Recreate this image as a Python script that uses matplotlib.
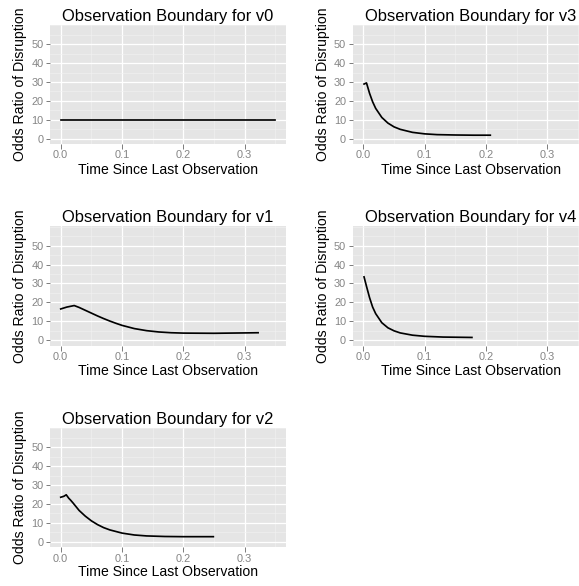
import matplotlib
matplotlib.use("Agg")
import matplotlib.pyplot as plt
from matplotlib.ticker import MultipleLocator

plt.rcParams['font.family'] = ['Liberation Sans', 'DejaVu Sans']

# ---- data ----
v0_x = [0.0, 0.35]
v0_y = [10.0, 10.0]

v1_x = [0.0, 0.010, 0.022, 0.030, 0.040, 0.050, 0.060, 0.070, 0.080, 0.090,
        0.100, 0.120, 0.140, 0.160, 0.180, 0.200, 0.250, 0.300, 0.322]
v1_y = [16.5, 17.5, 18.3, 17.3, 15.8, 14.3, 12.8, 11.4, 10.1, 8.9,
        7.8, 6.1, 5.0, 4.3, 3.9, 3.7, 3.6, 3.8, 3.9]

v2_x = [0.0, 0.005, 0.009, 0.013, 0.016, 0.020, 0.030, 0.040, 0.050, 0.060,
        0.070, 0.080, 0.100, 0.120, 0.140, 0.170, 0.200, 0.249]
v2_y = [23.5, 24.0, 24.8, 23.0, 22.0, 20.5, 16.5, 13.5, 11.0, 9.0,
        7.4, 6.2, 4.5, 3.5, 3.0, 2.7, 2.6, 2.6]

v3_x = [0.001, 0.005, 0.010, 0.015, 0.020, 0.030, 0.040, 0.050, 0.060, 0.080,
        0.100, 0.120, 0.150, 0.180, 0.207]
v3_y = [28.9, 29.5, 24.0, 19.5, 16.0, 11.2, 8.2, 6.2, 4.9, 3.3,
        2.5, 2.1, 1.9, 1.8, 1.8]

v4_x = [0.001, 0.005, 0.010, 0.015, 0.020, 0.030, 0.040, 0.050, 0.060, 0.080,
        0.100, 0.130, 0.177]
v4_y = [33.5, 28.5, 22.5, 17.5, 14.0, 9.2, 6.5, 4.9, 3.8, 2.6,
        2.0, 1.6, 1.4]

panels = [("v0", v0_x, v0_y), ("v3", v3_x, v3_y),
          ("v1", v1_x, v1_y), ("v4", v4_x, v4_y),
          ("v2", v2_x, v2_y)]

x_ticks = [0.0, 0.1, 0.2, 0.3]
x_tick_labels = ["0.0", "0.1", "0.2", "0.3"]
y_ticks = [0, 10, 20, 30, 40, 50]
y_tick_labels = ["0", "10", "20", "30", "40", "50"]

W, H = 579, 586
DPI = 72
fig = plt.figure(figsize=(W / DPI, H / DPI), dpi=DPI)

col_left = [50, 352.7]
row_top = [25, 226.5, 428]
pw, ph = 236, 119

for i, (name, xs, ys) in enumerate(panels):
    r, c = divmod(i, 2)
    l = col_left[c] / W
    b = 1 - (row_top[r] + ph) / H
    ax = fig.add_axes([l, b, pw / W, ph / H])
    ax.set_facecolor('#E5E5E5')
    for s in ax.spines.values():
        s.set_visible(False)
    ax.set_xlim(-0.0175, 0.3675)
    ax.set_ylim(-2.87, 60.2)
    ax.set_xticks(x_ticks)
    ax.set_xticklabels(x_tick_labels)
    ax.set_yticks(y_ticks)
    ax.set_yticklabels(y_tick_labels)
    ax.xaxis.set_minor_locator(MultipleLocator(0.05))
    ax.yaxis.set_minor_locator(MultipleLocator(5))
    ax.grid(which='major', color='white', linewidth=1.3)
    ax.grid(which='minor', color='#F2F2F2', linewidth=0.6)
    ax.set_axisbelow(True)
    ax.tick_params(which='major', length=4.5, width=1, color='#7F7F7F',
                   labelcolor='#858585', labelsize=11, pad=2)
    ax.tick_params(which='minor', length=0)
    ax.plot(xs, ys, color='black', linewidth=1.7)
    ax.set_title(f"Observation Boundary for {name}", fontsize=16.5, pad=4)
    ax.set_xlabel("Time Since Last Observation", fontsize=14, labelpad=2)
    ax.set_ylabel("Odds Ratio of Disruption", fontsize=14, labelpad=4)

fig.savefig("out.png", dpi=DPI, facecolor='white')
